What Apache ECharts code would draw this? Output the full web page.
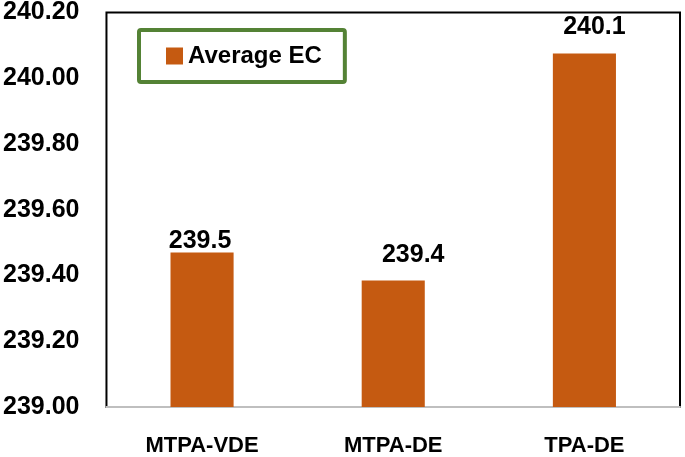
<!DOCTYPE html>
<html>
<head>
<meta charset="utf-8">
<script src="https://cdn.jsdelivr.net/npm/echarts@6/dist/echarts.min.js"></script>
<style>
html,body{margin:0;padding:0;background:#fff;}
#chart{width:685px;height:457px;}
</style>
</head>
<body>
<div id="chart"></div>
<script>
const categories = ['MTPA-VDE', 'MTPA-DE', 'TPA-DE'];
const seriesName = 'Average EC';
const values = [239.47, 239.385, 240.075];
const yMin = 239.0, yMax = 240.2, yStep = 0.2;

const labelOffsets = [[-2, 4], [20, -10], [10, -11]];
const FONT = '"Liberation Sans", Arial, sans-serif';

const chart = echarts.init(document.getElementById('chart'));
chart.setOption({
  animation: false,
  backgroundColor: '#fff',
  grid: {
    left: 106, right: 5, top: 10, bottom: 47,
    show: true, borderColor: '#000', borderWidth: 2, backgroundColor: 'transparent'
  },
  legend: {
    data: [seriesName],
    left: 139, top: 30,
    padding: [14, 23, 14, 27],
    borderColor: '#548235', borderWidth: 4, borderRadius: 2,
    itemWidth: 17, itemHeight: 17,
    icon: 'rect',
    textStyle: { fontFamily: FONT, fontWeight: 'bold', fontSize: 24, color: '#000' }
  },
  xAxis: {
    type: 'category',
    data: categories,
    axisLine: { show: true, lineStyle: { color: '#bfbfbf', width: 2 } },
    axisTick: { show: false },
    axisLabel: { fontFamily: FONT, fontWeight: 'bold', fontSize: 22, color: '#000', margin: 28 }
  },
  yAxis: {
    type: 'value',
    min: yMin, max: yMax, interval: yStep,
    axisLine: { show: false },
    axisTick: { show: false },
    splitLine: { show: false },
    axisLabel: {
      fontFamily: FONT, fontWeight: 'bold', fontSize: 25, color: '#000', margin: 27,
      formatter: v => v.toFixed(2)
    }
  },
  series: [{
    name: seriesName,
    type: 'bar',
    barWidth: '33%',
    itemStyle: { color: '#c55a11' },
    data: values.map((v, i) => ({
      value: v,
      label: { offset: labelOffsets[i] }
    })),
    label: {
      show: true, position: 'top', distance: 3,
      fontFamily: FONT, fontWeight: 'bold', fontSize: 25, color: '#000',
      formatter: p => p.value.toFixed(1)
    }
  }]
});
</script>
</body>
</html>
